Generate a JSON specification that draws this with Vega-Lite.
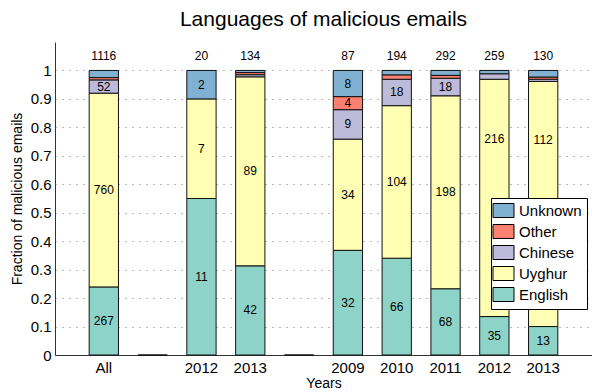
{
  "$schema": "https://vega.github.io/schema/vega-lite/v6.json",
  "autosize": "none",
  "padding": {"left": 55, "top": 42, "right": 0, "bottom": 37},
  "width": 537,
  "height": 313,
  "title": {
    "text": "Languages of malicious emails",
    "font": "Liberation Sans",
    "fontSize": 21,
    "fontWeight": "normal",
    "color": "#000000",
    "anchor": "middle",
    "offset": 12
  },
  "config": {
    "view": {"stroke": null},
    "font": "Liberation Sans",
    "axis": {
      "labelFont": "Liberation Sans",
      "titleFont": "Liberation Sans",
      "labelFontSize": 15,
      "titleFontSize": 14,
      "titleFontWeight": "normal",
      "labelColor": "#000000",
      "titleColor": "#000000",
      "domainColor": "#333333",
      "labelOverlap": false,
      "ticks": false
    },
    "axisY": {
      "labelPadding": 4,
      "titlePadding": 6,
      "grid": true,
      "gridColor": "#777777",
      "gridDash": [1, 6],
      "gridWidth": 1
    },
    "legend": {
      "labelFont": "Liberation Sans",
      "labelFontSize": 15,
      "labelColor": "#000000"
    }
  },
  "data": {
    "values": [
      {"cat": "All", "lang": "English", "count": 267},
      {"cat": "All", "lang": "Uyghur", "count": 760},
      {"cat": "All", "lang": "Chinese", "count": 52},
      {"cat": "All", "lang": "Other", "count": 9},
      {"cat": "All", "lang": "Unknown", "count": 28},
      {"cat": "sep1", "lang": "English", "count": 0},
      {"cat": "2012 A", "lang": "English", "count": 11},
      {"cat": "2012 A", "lang": "Uyghur", "count": 7},
      {"cat": "2012 A", "lang": "Unknown", "count": 2},
      {"cat": "2013 A", "lang": "English", "count": 42},
      {"cat": "2013 A", "lang": "Uyghur", "count": 89},
      {"cat": "2013 A", "lang": "Chinese", "count": 1},
      {"cat": "2013 A", "lang": "Other", "count": 1},
      {"cat": "2013 A", "lang": "Unknown", "count": 1},
      {"cat": "sep2", "lang": "English", "count": 0},
      {"cat": "2009", "lang": "English", "count": 32},
      {"cat": "2009", "lang": "Uyghur", "count": 34},
      {"cat": "2009", "lang": "Chinese", "count": 9},
      {"cat": "2009", "lang": "Other", "count": 4},
      {"cat": "2009", "lang": "Unknown", "count": 8},
      {"cat": "2010", "lang": "English", "count": 66},
      {"cat": "2010", "lang": "Uyghur", "count": 104},
      {"cat": "2010", "lang": "Chinese", "count": 18},
      {"cat": "2010", "lang": "Other", "count": 3},
      {"cat": "2010", "lang": "Unknown", "count": 3},
      {"cat": "2011", "lang": "English", "count": 68},
      {"cat": "2011", "lang": "Uyghur", "count": 198},
      {"cat": "2011", "lang": "Chinese", "count": 18},
      {"cat": "2011", "lang": "Other", "count": 3},
      {"cat": "2011", "lang": "Unknown", "count": 5},
      {"cat": "2012 B", "lang": "English", "count": 35},
      {"cat": "2012 B", "lang": "Uyghur", "count": 216},
      {"cat": "2012 B", "lang": "Chinese", "count": 5},
      {"cat": "2012 B", "lang": "Unknown", "count": 3},
      {"cat": "2013 B", "lang": "English", "count": 13},
      {"cat": "2013 B", "lang": "Uyghur", "count": 112},
      {"cat": "2013 B", "lang": "Chinese", "count": 1},
      {"cat": "2013 B", "lang": "Other", "count": 1},
      {"cat": "2013 B", "lang": "Unknown", "count": 3}
    ]
  },
  "transform": [
    {"joinaggregate": [{"op": "sum", "field": "count", "as": "total"}], "groupby": ["cat"]},
    {"calculate": "datum.total > 0 ? datum.count / datum.total : 0", "as": "frac"},
    {"calculate": "indexof(['English','Uyghur','Chinese','Other','Unknown'], datum.lang)", "as": "rank"}
  ],
  "encoding": {
    "x": {
      "field": "cat",
      "type": "nominal",
      "sort": ["All", "sep1", "2012 A", "2013 A", "sep2", "2009", "2010", "2011", "2012 B", "2013 B"],
      "scale": {"paddingInner": 0.4, "paddingOuter": 0.7},
      "axis": {
        "title": "Years",
        "labelAngle": 0,
        "labelPadding": 5,
        "titlePadding": 1,
        "labelExpr": "indexof(datum.value, 'sep') == 0 ? '' : slice(datum.value, 0, 4)"
      }
    }
  },
  "layer": [
    {
      "mark": {"type": "bar", "stroke": "#111111", "strokeWidth": 1},
      "encoding": {
        "y": {
          "field": "frac",
          "type": "quantitative",
          "stack": "zero",
          "scale": {"domain": [0, 1.1], "nice": false},
          "axis": {
            "title": "Fraction of malicious emails",
            "values": [0, 0.1, 0.2, 0.3, 0.4, 0.5, 0.6, 0.7, 0.8, 0.9, 1],
            "format": ".1~f"
          }
        },
        "order": {"field": "rank", "type": "quantitative"},
        "color": {
          "field": "lang",
          "type": "nominal",
          "scale": {
            "domain": ["Unknown", "Other", "Chinese", "Uyghur", "English"],
            "range": ["#80b1d3", "#fb8072", "#bebada", "#ffffb3", "#8dd3c7"]
          },
          "legend": {
            "title": null,
            "orient": "none",
            "legendX": 436,
            "legendY": 156,
            "zindex": 2,
            "symbolType": "M-1.5,-1H1.5V1H-1.5Z",
            "symbolSize": 196,
            "symbolStrokeColor": "#000000",
            "symbolStrokeWidth": 1,
            "symbolOpacity": 1,
            "rowPadding": 2,
            "labelOffset": 8,
            "fillColor": "#ffffff",
            "strokeColor": "#000000",
            "padding": 5
          }
        }
      }
    },
    {
      "transform": [
        {"stack": "frac", "groupby": ["cat"], "sort": [{"field": "rank"}], "as": ["y0", "y1"]},
        {"calculate": "indexof(['2012 B','2013 B'], datum.cat) >= 0 && datum.lang == 'Uyghur' ? (max(datum.y0, 0.552) + datum.y1) / 2 : (datum.y0 + datum.y1) / 2", "as": "mid"},
        {"filter": "datum.frac > 0.03"}
      ],
      "mark": {"type": "text", "fontSize": 12, "color": "#000000"},
      "encoding": {
        "y": {
          "field": "mid",
          "type": "quantitative",
          "axis": {
            "title": "Fraction of malicious emails",
            "values": [0, 0.1, 0.2, 0.3, 0.4, 0.5, 0.6, 0.7, 0.8, 0.9, 1],
            "format": ".1~f"
          }
        },
        "text": {"field": "count", "type": "quantitative"}
      }
    },
    {
      "transform": [
        {"aggregate": [{"op": "sum", "field": "count", "as": "n"}], "groupby": ["cat"]},
        {"filter": "datum.n > 0"}
      ],
      "mark": {"type": "text", "fontSize": 12, "color": "#000000"},
      "encoding": {
        "y": {
          "datum": 1.05,
          "type": "quantitative",
          "axis": {
            "title": "Fraction of malicious emails",
            "values": [0, 0.1, 0.2, 0.3, 0.4, 0.5, 0.6, 0.7, 0.8, 0.9, 1],
            "format": ".1~f"
          }
        },
        "text": {"field": "n", "type": "quantitative"}
      }
    }
  ]
}
